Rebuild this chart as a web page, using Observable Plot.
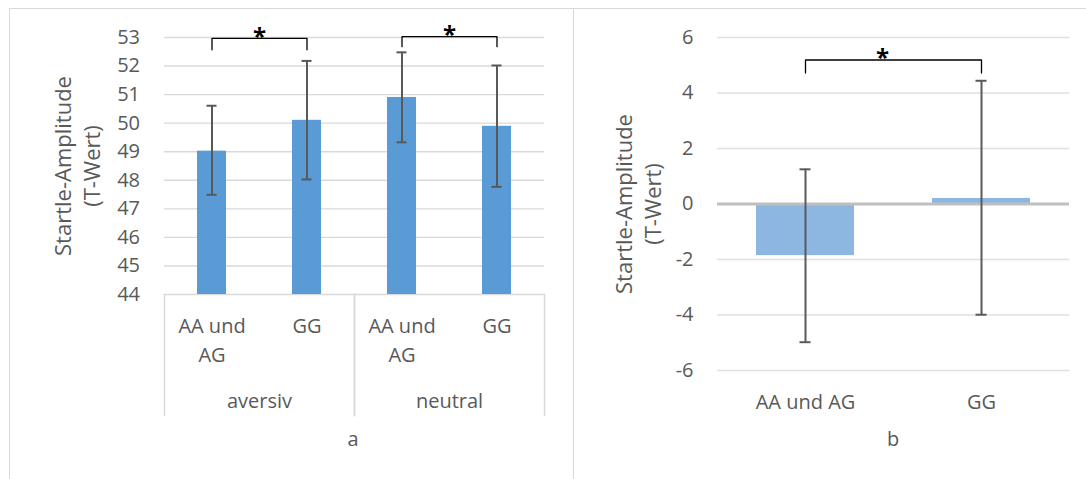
<!DOCTYPE html>
<html>
<head>
<meta charset="utf-8">
<script src="https://cdn.jsdelivr.net/npm/d3@7"></script>
<script src="https://cdn.jsdelivr.net/npm/@observablehq/plot@0.6"></script>
<style>
  body { margin: 0; background: #fff; }
  #root { position: relative; width: 1086px; height: 479px; overflow: hidden; background: #fff; font-family: 'Open Sans', sans-serif; }
  .frameL { position: absolute; left: 9px; top: 8px; width: 564px; height: 490px; border-top: 1.5px solid #d9d9d9; border-left: 1.5px solid #d9d9d9; box-sizing: border-box; }
  .frameR { position: absolute; left: 573px; top: 8px; width: 530px; height: 490px; border-top: 1.5px solid #d9d9d9; border-left: 1.5px solid #d9d9d9; box-sizing: border-box; }
  .cap { position: absolute; width: 100px; text-align: center; font-size: 20px; line-height: 28px; color: #595959; }
  .chart { position: absolute; top: 0; }
</style>
</head>
<body>
<div id="root">
  <div class="frameL"></div>
  <div class="frameR"></div>
  <div id="left" class="chart" style="left:0px"></div>
  <div id="right" class="chart" style="left:573px"></div>
  <div class="cap" style="left:303px; top:425px">a</div>
  <div class="cap" style="left:843px; top:425px">b</div>
</div>
<script>
// ---------- Data: panel a ----------
const conds = ["aversiv", "neutral"];
const genotypes = ["AA und AG", "GG"];
const genoLabelsLeft = ["AA und\nAG", "GG"];
// order: aversiv/AA und AG, aversiv/GG, neutral/AA und AG, neutral/GG
const meansLeft = [49.02, 50.10, 50.90, 49.89];
const hiLeft = [50.61, 52.18, 52.48, 52.02];
const loLeft = [47.49, 48.03, 49.33, 47.77];
const yTicksLeft = [44, 45, 46, 47, 48, 49, 50, 51, 52, 53];
const baseLeft = 44;
const bracketTopLeft = [52.97, 53.03];
const bracketEndLeft = [52.57, 52.68];
const sigLeft = ["*", "*"];

// ---------- Data: panel b ----------
const meansRight = [-1.86, 0.20];
const hiRight = [1.25, 4.44];
const loRight = [-4.98, -3.99];
const yTicksRight = [-6, -4, -2, 0, 2, 4, 6];
const bracketTopRight = 5.19;
const bracketEndRight = 4.72;
const sigRight = "*";

const yTitle = "Startle-Amplitude\n(T-Wert)";
const grey = "#595959";

// ---------- Build tables ----------
const rowsLeft = [];
conds.forEach((c, i) => genotypes.forEach((g, j) => {
  const k = i * 2 + j;
  rowsLeft.push({cond: c, gen: g, label: genoLabelsLeft[j], mean: meansLeft[k], hi: hiLeft[k], lo: loLeft[k]});
}));
const bracketsLeft = [];
conds.forEach((c, i) => {
  bracketsLeft.push({cond: c, gen: genotypes[0], y: bracketEndLeft[i]});
  bracketsLeft.push({cond: c, gen: genotypes[0], y: bracketTopLeft[i]});
  bracketsLeft.push({cond: c, gen: genotypes[1], y: bracketTopLeft[i]});
  bracketsLeft.push({cond: c, gen: genotypes[1], y: bracketEndLeft[i]});
});
const sigRowsLeft = conds.map((c, i) => ({cond: c, sig: sigLeft[i], y: bracketTopLeft[i]}));

const rowsRight = genotypes.map((g, j) => ({gen: g, mean: meansRight[j], hi: hiRight[j], lo: loRight[j]}));
const bracketRight = [
  {gen: genotypes[0], y: bracketEndRight},
  {gen: genotypes[0], y: bracketTopRight},
  {gen: genotypes[1], y: bracketTopRight},
  {gen: genotypes[1], y: bracketEndRight}
];

const style = {fontFamily: "'Open Sans', sans-serif", fontSize: "20px", color: grey, background: "transparent", overflow: "visible"};

// ---------- Panel a ----------
const left = Plot.plot({
  width: 573, height: 479,
  marginLeft: 163, marginRight: 29, marginTop: 37, marginBottom: 185,
  style,
  fx: {domain: conds, padding: 0, axis: null, label: null},
  x: {domain: genotypes, paddingInner: 0.69, paddingOuter: 0.345, axis: null, label: null},
  y: {domain: [44, 53], ticks: yTicksLeft, tickSize: 0, tickPadding: 24.5, label: null},
  marks: [
    Plot.ruleY(yTicksLeft, {stroke: "#d9d9d9", strokeWidth: 1.4}),
    Plot.barY(rowsLeft, {fx: "cond", x: "gen", y1: baseLeft, y2: "mean", fill: "#5b9bd5"}),
    Plot.ruleX(rowsLeft, {fx: "cond", x: "gen", y1: "lo", y2: "hi", stroke: grey, strokeWidth: 2}),
    Plot.tickY(rowsLeft, {fx: "cond", x: "gen", y: "hi", stroke: grey, strokeWidth: 2, inset: 9.5}),
    Plot.tickY(rowsLeft, {fx: "cond", x: "gen", y: "lo", stroke: grey, strokeWidth: 2, inset: 9.5}),
    Plot.line(bracketsLeft, {fx: "cond", x: "gen", y: "y", z: "cond", stroke: "#000", strokeWidth: 1.3}),
    Plot.text(sigRowsLeft, {fx: "cond", y: "y", text: "sig", lineAnchor: "middle", dy: -1, fontSize: 24, fontWeight: "bold", fill: "#000"}),
    Plot.frame({anchor: "left", stroke: "#d9d9d9", strokeWidth: 1.5, insetTop: 257, insetBottom: -121}),
    Plot.frame({anchor: "right", stroke: "#d9d9d9", strokeWidth: 1.5, insetTop: 257, insetBottom: -121}),
    Plot.text(rowsLeft, {fx: "cond", x: "gen", text: "label", frameAnchor: "bottom", lineAnchor: "top", dy: 18, lineHeight: 1.45, fontSize: 20, fill: grey}),
    Plot.text(conds, {fx: d => d, text: d => d, frameAnchor: "bottom", lineAnchor: "top", dy: 99, fontSize: 20, fill: grey}),
    Plot.text([yTitle], {fx: () => conds[0], text: d => d, frameAnchor: "left", textAnchor: "middle", rotate: -90, dx: -88, lineAnchor: "middle", lineHeight: 1.3, fontSize: 22, fill: grey})
  ]
});
document.getElementById("left").appendChild(left);

// ---------- Panel b ----------
const right = Plot.plot({
  width: 513, height: 479,
  marginLeft: 144, marginRight: 17, marginTop: 37, marginBottom: 109,
  style,
  x: {domain: genotypes, paddingInner: 0.445, paddingOuter: 0.2225, axis: null, label: null},
  y: {domain: [-6, 6], ticks: yTicksRight, tickSize: 0, tickPadding: 24, tickFormat: d => String(d), label: null},
  marks: [
    Plot.ruleY(yTicksRight.filter(d => d !== 0), {stroke: "#e0e0e0", strokeWidth: 1.4}),
    Plot.barY(rowsRight, {x: "gen", y: "mean", fill: "#8db7e1"}),
    Plot.ruleY([0], {stroke: "#bfbfbf", strokeWidth: 2.8}),
    Plot.ruleX(rowsRight, {x: "gen", y1: "lo", y2: "hi", stroke: grey, strokeWidth: 2}),
    Plot.tickY(rowsRight, {x: "gen", y: "hi", stroke: grey, strokeWidth: 2, inset: 43.5}),
    Plot.tickY(rowsRight, {x: "gen", y: "lo", stroke: grey, strokeWidth: 2, inset: 43.5}),
    Plot.line(bracketRight, {x: "gen", y: "y", stroke: "#000", strokeWidth: 1.3}),
    Plot.text([sigRight], {y: () => bracketTopRight, text: d => d, lineAnchor: "middle", dx: -11, dy: -2, fontSize: 24, fontWeight: "bold", fill: "#000"}),
    Plot.text(rowsRight, {x: "gen", text: "gen", frameAnchor: "bottom", lineAnchor: "top", dy: 24, fontSize: 20, fill: grey}),
    Plot.text([yTitle], {text: d => d, frameAnchor: "left", textAnchor: "middle", rotate: -90, dx: -80, lineAnchor: "middle", lineHeight: 1.3, fontSize: 22, fill: grey})
  ]
});
document.getElementById("right").appendChild(right);
</script>
</body>
</html>
